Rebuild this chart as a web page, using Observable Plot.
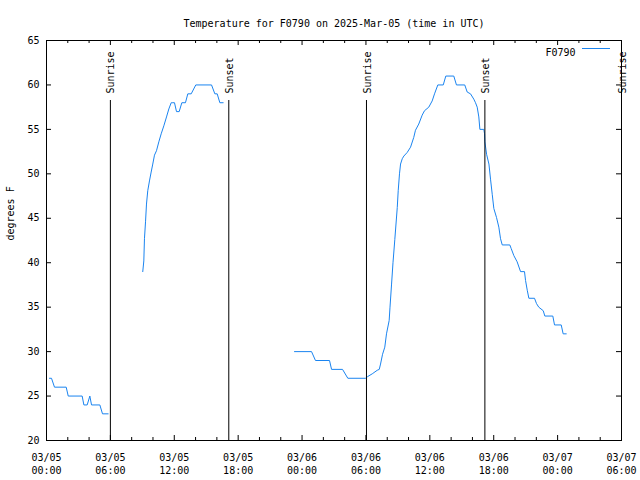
<!DOCTYPE html>
<html>
<head>
<meta charset="utf-8">
<script src="https://cdn.jsdelivr.net/npm/d3@7"></script>
<script src="https://cdn.jsdelivr.net/npm/@observablehq/plot@0.6"></script>
<style>
  html, body { margin: 0; padding: 0; background: #fff; }
  #chart svg { display: block; }
</style>
</head>
<body>
<div id="chart"></div>
<script>
// Hours since 2025-03-05 00:00 UTC, and temperature (°F)
const hours1 = [0.28, 0.47, 0.75, 1.85, 2.04, 3.35, 3.51, 3.82, 4.07, 4.23, 5.01, 5.26, 5.79];
const temps1 = [27, 27, 26, 26, 25, 25, 24, 24, 25, 24, 24, 23, 23];

const hours2 = [9.04, 9.14, 9.20, 9.30, 9.39, 9.51, 9.67, 9.83, 9.98, 10.14, 10.33, 10.55, 10.77, 11.02, 11.27, 11.49, 11.71,
                11.80, 12.02, 12.21, 12.46, 12.71, 13.05, 13.27, 13.59, 14.02, 15.50, 15.81, 16.03, 16.28, 16.59];
const temps2 = [39, 40.2, 42.7, 44.6, 46.6, 48.1, 49.2, 50.2, 51.1, 52.1, 52.6, 53.6, 54.5, 55.4, 56.4, 57.3, 58,
                58, 58, 57, 57, 58, 58, 59, 59, 60, 60, 59, 59, 58, 58];

const hours3 = [23.29, 24.89, 25.26, 26.58, 26.77, 27.80, 28.30, 29.96, 30.17, 30.59, 31.06, 31.25, 31.37, 31.56, 31.77, 31.93, 32.18,
                32.26, 32.40, 32.54, 32.71, 32.94, 33.03, 33.15, 33.25, 33.41, 33.56, 33.87, 34.19, 34.49, 34.65, 34.96, 35.28,
                35.50, 35.90, 36.22, 36.44, 36.75, 37.26, 37.50, 38.25, 38.50, 39.28, 39.51, 39.82, 40.13, 40.29, 40.45, 40.60,
                40.70, 41.07, 41.14, 41.17, 41.33, 41.55, 41.70, 41.86, 42.01, 42.26, 42.48, 42.64, 42.80, 43.51, 43.64, 43.89,
                44.20, 44.52, 44.89, 44.99, 45.15, 45.30, 45.83, 46.02, 46.23, 46.65, 46.80, 47.55, 47.71, 48.34, 48.52, 48.81];
const temps3 = [30, 30, 29, 29, 28, 28, 27, 27, 27.2, 27.5, 27.9, 28, 28.6, 29.7, 30.5, 32, 33.5,
                35, 37.5, 40, 42.6, 46.2, 48.1, 50, 51.1, 51.7, 52, 52.4, 53, 54.1, 54.9, 55.6, 56.6,
                57.1, 57.5, 58.2, 59, 60, 60, 61, 61, 60, 60, 59.2, 59, 58.4, 58, 57.5, 56.4,
                55, 55, 54.5, 53.6, 52.2, 51.1, 49.4, 47.7, 46.1, 45.1, 44, 42.7, 42, 42, 41.6, 40.8,
                40.1, 39, 39, 38, 36.9, 36, 36, 35.4, 35, 34.6, 34, 34, 33, 33, 32, 32];

const sunHours = [6.0, 17.12, 30.05, 41.17, 54.0];
const sunLabels = ["Sunrise", "Sunset", "Sunrise", "Sunset", "Sunrise"];

const yTicks = [20, 25, 30, 35, 40, 45, 50, 55, 60, 65];
const xMajorHours = [0, 6, 12, 18, 24, 30, 36, 42, 48, 54];
const xMinorHours = [2, 4, 8, 10, 14, 16, 20, 22, 26, 28, 32, 34, 38, 40, 44, 46, 50, 52];

const titleText = "Temperature for F0790 on 2025-Mar-05 (time in UTC)";
const yLabel = "degrees F";
const seriesName = "F0790";
const lineColor = "#1a84f0";

const t0 = Date.UTC(2025, 2, 5);
const toDate = h => new Date(t0 + h * 3600e3);

const segs = [[hours1, temps1], [hours2, temps2], [hours3, temps3]];
const data = segs.flatMap(([hs, ts], s) => hs.map((h, i) => ({time: toDate(h), temp: ts[i], seg: s})));
const sun = sunHours.map((h, i) => ({time: toDate(h), label: sunLabels[i]}));
const majors = xMajorHours.map(toDate);
const minors = xMinorHours.map(toDate);

const font = "DejaVu Sans Mono, monospace";

const legendMark = (index, scales, values, dims) => {
  const g = d3.create("svg:g");
  const xr = dims.width - dims.marginRight;
  const y = dims.marginTop + 8.5;
  g.append("line")
    .attr("x1", xr - 39).attr("x2", xr - 11)
    .attr("y1", y).attr("y2", y)
    .attr("stroke", lineColor).attr("stroke-width", 1);
  return g.node();
};

const chart = Plot.plot({
  width: 640,
  height: 480,
  marginLeft: 46,
  marginRight: 19,
  marginTop: 40,
  marginBottom: 40,
  style: {fontFamily: font, fontSize: "10px", background: "#fff", color: "#000"},
  x: {type: "utc", domain: [toDate(0), toDate(54)]},
  y: {domain: [20, 65]},
  marks: [
    // data line
    Plot.line(data, {x: "time", y: "temp", z: "seg", stroke: lineColor, strokeWidth: 1, curve: "linear"}),
    // sunrise/sunset rules and labels
    Plot.ruleX(sun, {x: "time", insetTop: 60, stroke: "#000", strokeWidth: 1}),
    Plot.text(sun, {x: "time", text: "label", frameAnchor: "top", dy: 53, dx: -3, rotate: -90, textAnchor: "start", fill: "#000", fontSize: 10}),
    // frame
    Plot.frame({stroke: "#000", strokeWidth: 1}),
    // inward ticks
    Plot.ruleX(majors, {insetTop: 395, stroke: "#000"}),
    Plot.ruleX(majors, {insetBottom: 395, stroke: "#000"}),
    Plot.ruleX(minors, {insetTop: 397, stroke: "#000"}),
    Plot.ruleX(minors, {insetBottom: 397, stroke: "#000"}),
    Plot.ruleY(yTicks, {insetRight: 570, stroke: "#000"}),
    Plot.ruleY(yTicks, {insetLeft: 570, stroke: "#000"}),
    // axes labels
    Plot.axisX({ticks: majors, tickSize: 0, tickPadding: 11, lineHeight: 1.3, fontSize: 10,
                tickFormat: d3.utcFormat("%m/%d\n%H:%M"), label: null}),
    Plot.axisY({ticks: yTicks, tickSize: 0, tickPadding: 7, fontSize: 10, label: null}),
    // title and y label
    Plot.text([titleText], {frameAnchor: "top", dy: -21, fontSize: 10, fill: "#000"}),
    Plot.text([yLabel], {frameAnchor: "left", dx: -36, rotate: -90, fontSize: 10, fill: "#000"}),
    // legend
    Plot.text([seriesName], {frameAnchor: "top-right", dx: -46, dy: 8, textAnchor: "end", fontSize: 10, fill: "#000"}),
    legendMark
  ]
});

document.getElementById("chart").append(chart);
</script>
</body>
</html>
